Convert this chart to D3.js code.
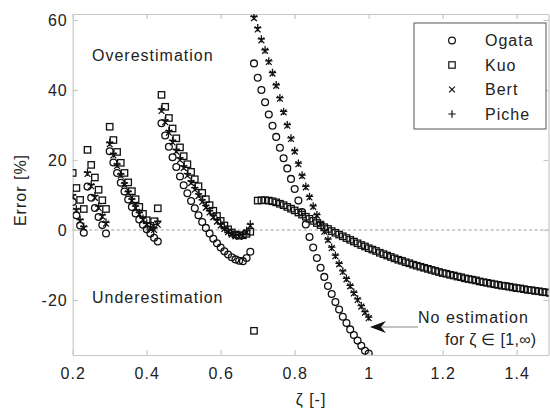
<!DOCTYPE html>
<html><head><meta charset="utf-8">
<script src="https://cdn.jsdelivr.net/npm/d3@7"></script>
<style>
html,body{margin:0;padding:0;background:#fff;}
svg text{font-family:"Liberation Sans",Arial,sans-serif;letter-spacing:1px;fill:#222;}
</style></head><body>
<svg id="chart" width="550" height="411"></svg>
<script>
// ---------------- data ----------------
const zetaTicks = [0.2, 0.4, 0.6, 0.8, 1, 1.2, 1.4];
const errorTicks = [-20, 0, 20, 40, 60];
const zetaStart = 0.20;   // first sampled zeta
const zetaStep = 0.01;    // sampling step of zeta
const seriesNames = ["Ogata", "Kuo", "Bert", "Piche"];

// Ogata: zeta 0.20 .. 1.00
const ogata = [
  8.0, 4.2, 1.3, -0.8,
  12.4, 9.2, 6.3, 3.7, 1.4, -1.0,
  22.5, 19.3, 16.3, 13.5, 11.0, 8.7, 6.6, 4.7, 3.0, 1.5, 0.2, -1.0, -2.2, -3.3,
  30.5, 27.0, 23.8, 20.8, 18.0, 15.3, 12.8, 10.5, 8.3, 6.2, 4.2, 2.3, 0.6, -1.0, -2.5, -3.8, -5.0, -6.1, -7.0, -7.8, -8.4, -8.8, -8.9, -8.0, -6.2,
  47.6, 43.5, 40.0, 36.5, 33.0, 29.8, 26.6, 23.5, 20.5, 17.6, 14.6, 11.7, 8.4, 5.1, 1.6, -2.0, -5.0, -8.0, -10.8, -13.4, -16.0, -18.3, -20.6, -22.7, -24.8, -26.6, -28.4, -30.0, -31.6, -33.1, -34.5, -35.3
];
// Kuo: zeta 0.20 .. 1.50
const kuo = [
  16.3, 12.0, 8.6, 6.0,
  22.9, 18.6, 15.0, 11.5, 8.5, 6.0,
  29.5, 25.7, 22.3, 19.2, 16.3, 13.6, 11.1, 8.8, 6.6, 4.6, 2.8, 1.2, 2.5, 6.2,
  38.6, 35.2, 32.0, 29.0, 26.2, 23.6, 21.1, 18.8, 16.6, 14.5, 12.5, 10.6, 8.8, 7.1, 5.5, 4.0, 2.6, 1.3, 0.2, -0.7, -1.3, -1.6, -1.5, -1.1, -0.5,
  -28.8,
  8.4, 8.5, 8.5, 8.4, 8.2, 7.9, 7.5, 7.1, 6.6, 6.1,
  5.6, 5.0, 4.4, 3.8, 3.2, 2.6, 2.0, 1.4, 0.8, 0.3,
  -0.3, -0.8, -1.3, -1.8, -2.3, -2.8, -3.3, -3.8, -4.3, -4.7,
  -5.2, -5.6, -6.0, -6.5, -6.9, -7.3, -7.7, -8.1, -8.5, -8.8,
  -9.2, -9.5, -9.9, -10.2, -10.5, -10.8, -11.1, -11.4, -11.7, -12.0,
  -12.3, -12.5, -12.8, -13.0, -13.3, -13.5, -13.8, -14.0, -14.2, -14.4,
  -14.7, -14.9, -15.1, -15.3, -15.5, -15.7, -15.9, -16.0, -16.2, -16.4,
  -16.6, -16.7, -16.9, -17.1, -17.2, -17.4, -17.5, -17.7, -17.8, -18.0,
  -18.1
];
// Bert: zeta 0.20 .. 1.00
const bert = [
  9.5, 5.5, 2.5, 0.5,
  16.0, 12.5, 9.2, 6.3, 3.8, 1.8,
  24.5, 21.3, 18.3, 15.5, 12.9, 10.5, 8.3, 6.3, 4.5, 2.9, 1.5, 0.5, 0.0, 1.5,
  34.0, 30.8, 27.8, 25.0, 22.4, 20.0, 17.7, 15.5, 13.4, 11.5, 9.7, 8.0, 6.4, 5.0, 3.6, 2.4, 1.3, 0.3, -0.6, -1.3, -1.8, -2.0, -1.7, -0.6, 1.2,
  60.5, 57.3, 54.2, 51.2, 48.0, 44.7, 41.2, 37.5, 33.6, 29.8, 26.0, 22.4, 18.8, 15.4, 12.2, 9.3, 6.6, 4.1, 1.8, -0.5, -2.9, -5.2, -7.5, -9.8, -12.0, -14.1, -16.1, -18.1, -20.0, -21.9, -23.6, -25.2
];
// Piche: zeta 0.20 .. 1.00
const piche = [
  10.0, 6.0, 3.0, 1.0,
  16.5, 13.0, 9.8, 6.8, 4.3, 2.2,
  25.0, 21.8, 18.8, 16.0, 13.4, 11.0, 8.8, 6.8, 5.0, 3.4, 2.0, 1.0, 0.6, 2.5,
  34.6, 31.4, 28.4, 25.6, 23.0, 20.6, 18.3, 16.1, 14.0, 12.1, 10.3, 8.6, 7.0, 5.5, 4.1, 2.9, 1.8, 0.8, -0.1, -0.8, -1.3, -1.5, -1.2, -0.1, 1.7,
  61.0, 57.8, 54.6, 51.5, 48.3, 45.0, 41.5, 37.8, 33.9, 30.1, 26.3, 22.7, 19.1, 15.7, 12.5, 9.6, 6.9, 4.4, 2.1, -0.2, -2.6, -4.9, -7.2, -9.5, -11.7, -13.8, -15.8, -17.8, -19.7, -21.6, -23.3, -24.9
];

// ---------------- layout ----------------
const svg = d3.select("#chart");
const P = {left: 72.7, right: 548.5, top: 14, bottom: 355};
const x = d3.scaleLinear().domain([0.2, 1.486]).range([P.left, P.right]);
const y = d3.scaleLinear().domain([-35.71, 61.71]).range([P.bottom, P.top]);
const zetaOf = i => Math.round((zetaStart + i * zetaStep) * 100) / 100;

const spine = "#c8c8c8";
function styleAxis(g) {
  g.select(".domain").attr("stroke", spine).attr("stroke-width", 1.2);
  g.selectAll(".tick line").attr("stroke", spine).attr("stroke-width", 1.2);
  g.selectAll(".tick text").attr("font-size", 16).attr("fill", "#222")
    .style("font-family", '"Liberation Sans",Arial,sans-serif');
}

// zero dotted line
svg.append("line")
  .attr("x1", P.left).attr("x2", P.right)
  .attr("y1", y(0)).attr("y2", y(0))
  .attr("stroke", "#bdbdbd").attr("stroke-width", 1.6)
  .attr("stroke-dasharray", "3,2.5");

// axes
svg.append("g").attr("transform", `translate(0,${P.bottom})`)
  .call(d3.axisBottom(x).tickValues(zetaTicks).tickFormat(d => String(d)).tickSizeInner(-5).tickSizeOuter(0).tickPadding(12.5))
  .call(styleAxis);
svg.append("g").attr("transform", `translate(0,${P.top})`)
  .call(d3.axisTop(x).tickValues(zetaTicks).tickFormat("").tickSizeInner(-5).tickSizeOuter(0))
  .call(styleAxis);
svg.append("g").attr("transform", `translate(${P.left},0)`)
  .call(d3.axisLeft(y).tickValues(errorTicks).tickFormat(d => String(d)).tickSizeInner(-5).tickSizeOuter(0).tickPadding(5))
  .call(styleAxis);
svg.append("g").attr("transform", `translate(${P.right},0)`)
  .call(d3.axisRight(y).tickValues(errorTicks).tickFormat("").tickSizeInner(-5).tickSizeOuter(0))
  .call(styleAxis);

// clip
svg.append("defs").append("clipPath").attr("id", "clip")
  .append("rect").attr("x", P.left).attr("y", P.top)
  .attr("width", P.right - P.left).attr("height", P.bottom - P.top);
const plotG = svg.append("g").attr("clip-path", "url(#clip)");

// marker painters
const markers = {
  Ogata: (g, cx, cy) => g.append("circle").attr("cx", cx).attr("cy", cy).attr("r", 3.4),
  Kuo: (g, cx, cy) => g.append("rect").attr("x", cx - 3.2).attr("y", cy - 3.2).attr("width", 6.4).attr("height", 6.4),
  Bert: (g, cx, cy) => g.append("path").attr("d", `M${cx-2.9},${cy-2.9}L${cx+2.9},${cy+2.9}M${cx-2.9},${cy+2.9}L${cx+2.9},${cy-2.9}`),
  Piche: (g, cx, cy) => g.append("path").attr("d", `M${cx-3.7},${cy}L${cx+3.7},${cy}M${cx},${cy-3.7}L${cx},${cy+3.7}`)
};
const seriesData = {Ogata: ogata, Kuo: kuo, Bert: bert, Piche: piche};

seriesNames.forEach(name => {
  const g = plotG.append("g").attr("fill", "none").attr("stroke", "#111").attr("stroke-width", 1.3);
  seriesData[name].forEach((v, i) => markers[name](g, x(zetaOf(i)), y(v)));
});

// annotations
svg.append("text").attr("x", 92).attr("y", 61).attr("font-size", 16).text("Overestimation");
svg.append("text").attr("x", 92).attr("y", 303).attr("font-size", 16).text("Underestimation");
svg.append("text").attr("x", 418).attr("y", 323).attr("font-size", 16).text("No estimation");
svg.append("text").attr("x", 445).attr("y", 345).attr("font-size", 16).style("letter-spacing", "0.3px").text("for ζ ∈ [1,∞)");

// arrow
svg.append("line").attr("x1", 418).attr("x2", 382).attr("y1", 327).attr("y2", 327)
  .attr("stroke", "#888").attr("stroke-width", 1);
svg.append("path").attr("d", "M370,327L386,321L381,327L386,333Z").attr("fill", "#111");

// axis titles
svg.append("text").attr("x", 311).attr("y", 405).attr("text-anchor", "middle").attr("font-size", 16).text("ζ [-]");
svg.append("text").attr("transform", "translate(26,190) rotate(-90)").attr("text-anchor", "middle").attr("font-size", 16).text("Error [%]");

// legend
const L = {x: 414, y: 23, w: 132, h: 106};
svg.append("rect").attr("x", L.x).attr("y", L.y).attr("width", L.w).attr("height", L.h)
  .attr("fill", "#fff").attr("stroke", "#555").attr("stroke-width", 1);
seriesNames.forEach((name, i) => {
  const cy = 40.5 + i * 24.5;
  const g = svg.append("g").attr("fill", "none").attr("stroke", "#111").attr("stroke-width", 1.2);
  markers[name](g, 452, cy);
  svg.append("text").attr("x", 485).attr("y", cy + 5.5).attr("font-size", 16).text(name);
});
</script>
</body></html>
